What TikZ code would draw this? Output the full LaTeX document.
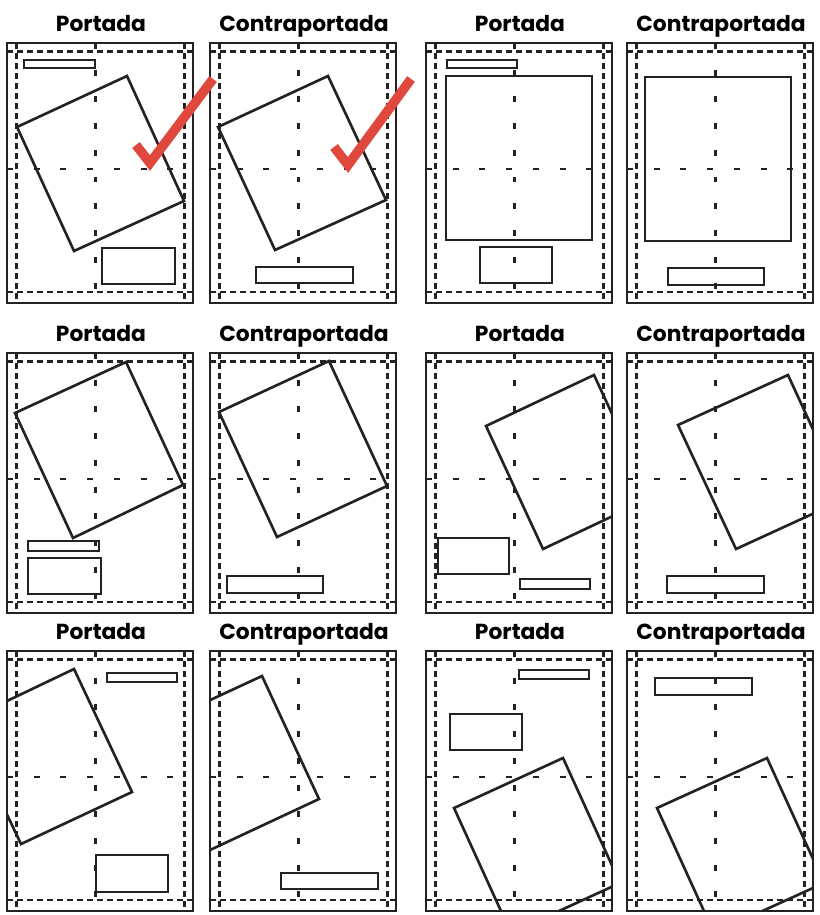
\documentclass[tikz,border=0pt]{standalone}
\usepackage{fontspec}
\newfontfamily\titlefont{Poppins}
\usetikzlibrary{positioning}
\definecolor{ink}{HTML}{222222}
\definecolor{checkred}{HTML}{E0483E}

\begin{document}
\begin{tikzpicture}[x=0.02cm, y=-0.02cm,
  frame/.style={draw=ink, line width=1.5pt},
  margin/.style={draw=ink, line width=1.35pt, dash pattern=on 3.4pt off 2.3pt},
  axis/.style={draw=ink, line width=1.35pt, dash pattern=on 3.4pt off 11.8pt},
  pieza/.style={draw=ink, line width=1.5pt, line join=miter},
  bloque/.style={draw=ink, line width=1.25pt},
  title/.style={font=\titlefont\bfseries\fontsize{12.4}{15}\selectfont, anchor=base, inner sep=0pt},
  check/.style={draw=checkred, line width=5.4pt, line join=miter, miter limit=10},
]
\useasboundingbox (0,0) rectangle (820,915);

% Pages: frame, margins, centre lines, title
\foreach \x/\y/\t [count=\n] in {7/43/Portada, 210/43/Contraportada, 426/43/Portada, 627/43/Contraportada,
    7/353/Portada, 210/353/Contraportada, 426/353/Portada, 627/353/Contraportada,
    7/651/Portada, 210/651/Contraportada, 426/651/Portada, 627/651/Contraportada} {
  \begin{scope}[shift={(\x,\y)}]
    \node[title] (t\n) at (94,-11.5) {\t};
    \draw[margin] (0,8.5) -- (186,8.5);
    \draw[margin] (0,249) -- (186,249);
    \draw[margin] (9.5,0) -- (9.5,260);
    \draw[margin] (177.5,0) -- (177.5,260);
    \draw[axis] (88.5,0) -- (88.5,260);
    \draw[axis] (0,126) -- (186,126);
    \draw[frame] (0,0) rectangle (186,260);
  \end{scope}
}

% Row 1
\begin{scope}[shift={(7,43)}]
  \clip (0,0) rectangle (186,260);
  \draw[bloque] (17,17) rectangle (88,25);
  \draw[pieza] (120,33) -- (177,158) -- (67,208) -- (10,84) -- cycle;
  \draw[bloque] (95,205) rectangle (168,241);
\end{scope}
\begin{scope}[shift={(210,43)}]
  \clip (0,0) rectangle (186,260);
  \draw[pieza] (118,33) -- (176,157) -- (65,207) -- (8,84) -- cycle;
  \draw[bloque] (46,224) rectangle (143,240);
\end{scope}
\begin{scope}[shift={(426,43)}]
  \clip (0,0) rectangle (186,260);
  \draw[bloque] (21,17) rectangle (91,25);
  \draw[pieza] (20,33) rectangle (166,197);
  \draw[bloque] (54,204) rectangle (126,240);
\end{scope}
\begin{scope}[shift={(627,43)}]
  \clip (0,0) rectangle (186,260);
  \draw[pieza] (18,34) rectangle (164,198);
  \draw[bloque] (41,225) rectangle (137,242);
\end{scope}

% Row 2
\begin{scope}[shift={(7,353)}]
  \clip (0,0) rectangle (186,260);
  \draw[pieza] (119,9) -- (176,132) -- (66,185) -- (8,60) -- cycle;
  \draw[bloque] (21,188) rectangle (92,198);
  \draw[bloque] (21,205) rectangle (94,241);
\end{scope}
\begin{scope}[shift={(210,353)}]
  \clip (0,0) rectangle (186,260);
  \draw[pieza] (119,8) -- (177,133) -- (67,184) -- (9,59) -- cycle;
  \draw[bloque] (17,223) rectangle (113,240);
\end{scope}
\begin{scope}[shift={(426,353)}]
  \clip (0,0) rectangle (186,260);
  \draw[pieza] (60,73) -- (168,22) -- (225,145) -- (117,196) -- cycle;
  \draw[bloque] (12,185) rectangle (83,221);
  \draw[bloque] (94,226) rectangle (164,236);
\end{scope}
\begin{scope}[shift={(627,353)}]
  \clip (0,0) rectangle (186,260);
  \draw[pieza] (51,72) -- (161,22) -- (218,146) -- (109,196) -- cycle;
  \draw[bloque] (40,223) rectangle (137,240);
\end{scope}

% Row 3
\begin{scope}[shift={(7,651)}]
  \clip (0,0) rectangle (186,260);
  \draw[pieza] (-44,71) -- (67,18) -- (125,141) -- (14,193) -- cycle;
  \draw[bloque] (100,22) rectangle (170,31);
  \draw[bloque] (89,204) rectangle (161,241);
\end{scope}
\begin{scope}[shift={(210,651)}]
  \clip (0,0) rectangle (186,260);
  \draw[pieza] (-58,76) -- (52,25) -- (109,148) -- (0,199) -- cycle;
  \draw[bloque] (71,222) rectangle (168,238);
\end{scope}
\begin{scope}[shift={(426,651)}]
  \clip (0,0) rectangle (186,260);
  \draw[bloque] (93,19) rectangle (163,28);
  \draw[bloque] (24,63) rectangle (96,99);
  \draw[pieza] (28,157) -- (137,107) -- (194,232) -- (85,282) -- cycle;
\end{scope}
\begin{scope}[shift={(627,651)}]
  \clip (0,0) rectangle (186,260);
  \draw[bloque] (28,27) rectangle (125,44);
  \draw[pieza] (30,157) -- (140,107) -- (197,232) -- (87,282) -- cycle;
\end{scope}

% Ticks
\draw[check] (136,145) -- (150,163) -- (213,79);
\draw[check] (334,147) -- (348,165) -- (411,79);
\end{tikzpicture}
\end{document}
